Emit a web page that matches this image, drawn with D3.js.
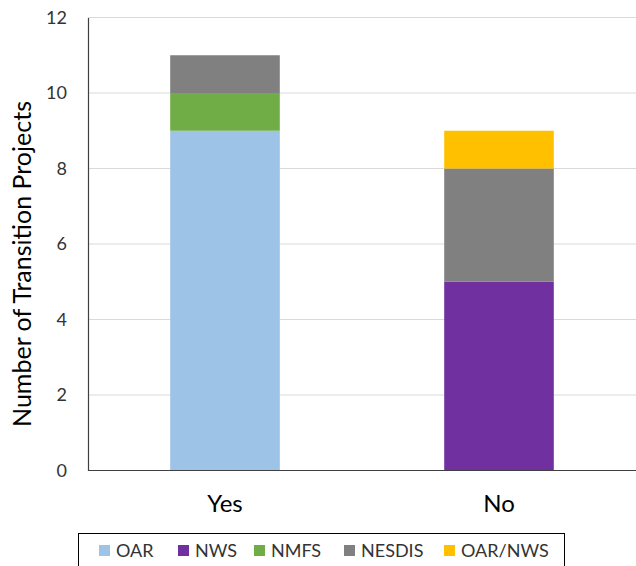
<!DOCTYPE html>
<html><head><meta charset="utf-8">
<script src="https://cdn.jsdelivr.net/npm/d3@7"></script>
<style>body{margin:0;background:#fff}svg{display:block}text{font-family:Lato,"Open Sans",sans-serif}</style>
</head><body><svg id="c" width="636" height="566"></svg>
<script>
const categories = ["Yes", "No"];
const seriesNames = ["OAR", "NWS", "NMFS", "NESDIS", "OAR/NWS"];
const OAR = [9, 0];
const NWS = [0, 5];
const NMFS = [1, 0];
const NESDIS = [1, 3];
const OAR_NWS = [0, 1];
const colors = ["#9DC3E6", "#7030A0", "#70AD47", "#808080", "#FFC000"];
const yTicks = [0, 2, 4, 6, 8, 10, 12];

const seriesVals = [OAR, NWS, NMFS, NESDIS, OAR_NWS];
const rows = categories.map((c, i) => {
  const r = {cat: c};
  seriesNames.forEach((s, j) => r[s] = seriesVals[j][i]);
  return r;
});
const stack = d3.stack().keys(seriesNames)(rows);

const svg = d3.select("#c");
const x = d3.scaleBand().domain(categories).range([88, 636]).paddingInner(0.6).paddingOuter(0.3);
const y = d3.scaleLinear().domain([0, 12]).range([470.5, 17.5]);

// gridlines
svg.append("g").selectAll("line").data(yTicks.filter(t => t > 0)).join("line")
  .attr("x1", 88).attr("x2", 636).attr("y1", d => y(d)).attr("y2", d => y(d))
  .attr("stroke", "#d9d9d9").attr("stroke-width", 1);

// bars
svg.append("g").selectAll("g").data(stack).join("g")
  .attr("fill", (d, i) => colors[i])
  .selectAll("rect").data(d => d).join("rect")
  .attr("x", d => x(d.data.cat)).attr("width", x.bandwidth())
  .attr("y", d => y(d[1])).attr("height", d => y(d[0]) - y(d[1]));

// y axis
const ya = svg.append("g").attr("transform", "translate(88,0)")
  .call(d3.axisLeft(y).tickValues(yTicks).tickSize(0).tickPadding(21));
ya.select(".domain").attr("stroke", "#404040").attr("stroke-width", 1.2);
ya.selectAll("text").attr("font-size", 18).attr("fill", "#333").attr("font-family", "Lato, sans-serif");

// x axis
const xa = svg.append("g").attr("transform", "translate(0,470.5)")
  .call(d3.axisBottom(x).tickSize(0).tickPadding(24));
xa.select(".domain").attr("d", "M88,0H636").attr("stroke", "#404040").attr("stroke-width", 1.2);
xa.selectAll("text").attr("font-size", 24).attr("fill", "#000").attr("font-family", "Lato, sans-serif");

// y title
svg.append("text").attr("transform", "translate(31,264) rotate(-90)")
  .attr("text-anchor", "middle").attr("font-size", 25).attr("fill", "#000")
  .text("Number of Transition Projects");

// legend
svg.append("rect").attr("x", 78.5).attr("y", 533.5).attr("width", 486).attr("height", 40)
  .attr("fill", "#fff").attr("stroke", "#000").attr("stroke-width", 1);
const legX = [99, 178, 254, 344, 444];
const lg = svg.append("g").selectAll("g").data(seriesNames).join("g")
  .attr("transform", (d, i) => `translate(${legX[i]},545)`);
lg.append("rect").attr("width", 11).attr("height", 11).attr("fill", (d, i) => colors[i]);
lg.append("text").attr("x", 17).attr("y", 11.5).attr("font-size", 18).attr("fill", "#333").text(d => d);
</script></body></html>
